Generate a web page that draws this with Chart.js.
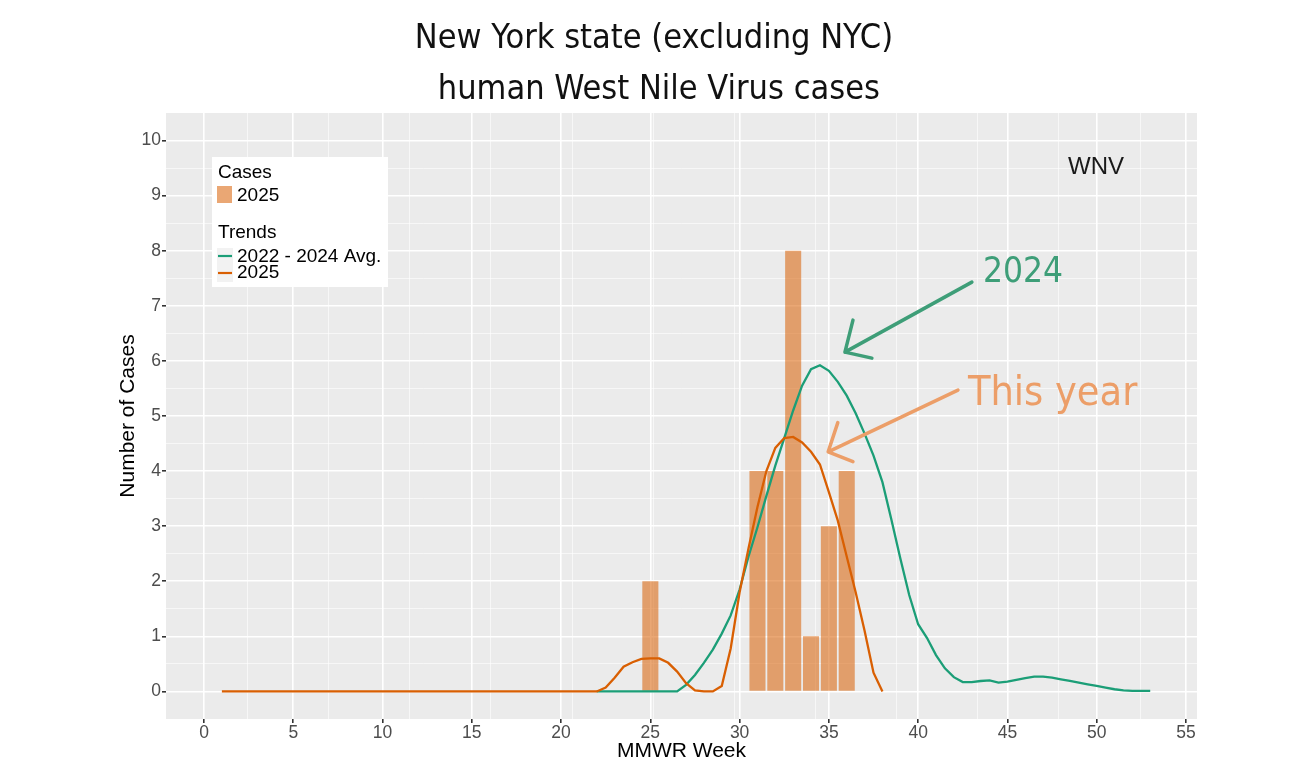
<!DOCTYPE html>
<html>
<head>
<meta charset="utf-8">
<script src="https://cdn.jsdelivr.net/npm/chart.js@4.4.1/dist/chart.umd.min.js"></script>
<style>
  html, body { margin: 0; padding: 0; background: #ffffff; }
  #wrap { width: 1308px; height: 776px; }
</style>
</head>
<body>
<div id="wrap"><canvas id="chart" width="1308" height="776"></canvas></div>
<script>
// weekly case counts (bars)
const caseWeeks = [25, 31, 32, 33, 34, 35, 36];
const cases2025 = [2, 4, 4, 8, 1, 3, 4];

// smoothed trend, 2022 - 2024 average
const avgWeeks = [22, 26.5, 27, 27.5, 28, 28.5, 29, 29.5, 30, 30.5, 31, 31.5, 32, 32.5, 33, 33.5, 34, 34.5, 35, 35.5,
  36, 36.5, 37, 37.5, 38, 38.5, 39, 39.5, 40, 40.5, 41, 41.5, 42, 42.5, 43, 43.5, 44, 44.5, 45, 45.5,
  46, 46.5, 47, 47.5, 48, 48.5, 49, 49.5, 50, 50.5, 51, 51.5, 52, 52.5, 53];
const avgTrend = [0, 0, 0.12, 0.3, 0.52, 0.76, 1.05, 1.38, 1.85, 2.45, 2.98, 3.55, 4.1, 4.6, 5.1, 5.55, 5.85, 5.92, 5.82, 5.62,
  5.37, 5.05, 4.68, 4.28, 3.8, 3.12, 2.42, 1.75, 1.22, 0.97, 0.66, 0.42, 0.26, 0.17, 0.17, 0.19, 0.2, 0.16, 0.18, 0.21,
  0.24, 0.27, 0.27, 0.25, 0.22, 0.19, 0.16, 0.13, 0.1, 0.07, 0.04, 0.02, 0.01, 0.01, 0.01];

// smoothed trend, 2025
const trendWeeks2025 = [1, 22, 22.5, 23, 23.5, 24, 24.5, 25, 25.5, 26, 26.5, 27, 27.5, 28, 28.5, 29, 29.5,
  30, 30.5, 31, 31.5, 32, 32.5, 33, 33.5, 34, 34.5, 35, 35.5, 36, 36.5, 37, 37.5, 38];
const trend2025 = [0, 0, 0.07, 0.25, 0.45, 0.53, 0.59, 0.6, 0.6, 0.52, 0.36, 0.15, 0.02, 0, 0, 0.1, 0.78,
  1.8, 2.6, 3.35, 4.0, 4.42, 4.6, 4.62, 4.52, 4.35, 4.12, 3.62, 3.1, 2.45, 1.8, 1.1, 0.34, 0];

// axis breaks
const xTickValues = [0, 5, 10, 15, 20, 25, 30, 35, 40, 45, 50, 55];
const yTickValues = [0, 1, 2, 3, 4, 5, 6, 7, 8, 9, 10];
const xMinorValues = [2.5, 7.5, 12.5, 17.5, 22.5, 27.5, 32.5, 37.5, 42.5, 47.5, 52.5];
const yMinorValues = [0.5, 1.5, 2.5, 3.5, 4.5, 5.5, 6.5, 7.5, 8.5, 9.5];

const toPoints = (xs, ys) => xs.map((x, i) => ({ x: x, y: ys[i] }));

const sansFont = "'Liberation Sans', Arial, sans-serif";
const handFont = "'Liberation Sans Narrow', 'DejaVu Sans Condensed', 'DejaVu Sans', sans-serif";
const GREEN = '#1B9E77';
const ORANGE = '#D95F02';
const BAR = 'rgba(217, 95, 2, 0.55)';

const X_MIN = -2.13, X_MAX = 55.62;
const Y_MIN = -0.5, Y_MAX = 10.5;

// grey ggplot panel
const panelBg = {
  id: 'panelBg',
  beforeDraw(chart) {
    const { ctx, chartArea: a } = chart;
    ctx.save();
    ctx.fillStyle = '#EBEBEB';
    ctx.fillRect(a.left, a.top, a.right - a.left, a.bottom - a.top);
    ctx.restore();
  }
};

// legend box in the top left corner of the panel
const ggLegend = {
  id: 'ggLegend',
  afterDraw(chart) {
    const { ctx, chartArea: a } = chart;
    const L = a.left + 46, T = a.top + 44;
    ctx.save();
    ctx.fillStyle = '#FFFFFF';
    ctx.fillRect(L, T, 176, 130);
    ctx.font = '19px ' + sansFont;
    ctx.textBaseline = 'middle';
    ctx.textAlign = 'left';
    ctx.fillStyle = '#000000';
    ctx.fillText('Cases', L + 6, T + 16);
    ctx.fillStyle = BAR;
    ctx.fillRect(L + 5, T + 29, 15, 17);
    ctx.fillStyle = '#000000';
    ctx.fillText('2025', L + 25, T + 39);
    ctx.fillText('Trends', L + 6, T + 76);
    ctx.fillStyle = '#F2F2F2';
    ctx.fillRect(L + 5, T + 91, 16, 34);
    ctx.lineWidth = 2.2;
    ctx.strokeStyle = GREEN;
    ctx.beginPath(); ctx.moveTo(L + 6, T + 99); ctx.lineTo(L + 20, T + 99); ctx.stroke();
    ctx.strokeStyle = ORANGE;
    ctx.beginPath(); ctx.moveTo(L + 6, T + 116); ctx.lineTo(L + 20, T + 116); ctx.stroke();
    ctx.fillStyle = '#000000';
    ctx.fillText('2022 - 2024 Avg.', L + 25, T + 100);
    ctx.fillText('2025', L + 25, T + 116);
    ctx.restore();
  }
};

// hand drawn notes, placed in data units
const notes = {
  id: 'notes',
  afterDraw(chart) {
    const { ctx, scales: { x, y } } = chart;
    const P = (wk, v) => [x.getPixelForValue(wk), y.getPixelForValue(v)];
    const arrow = (from, tip, b1, b2, color) => {
      ctx.strokeStyle = color;
      ctx.lineWidth = 3.5;
      ctx.lineCap = 'round';
      ctx.lineJoin = 'round';
      ctx.beginPath();
      ctx.moveTo(...P(...from));
      ctx.lineTo(...P(...tip));
      ctx.moveTo(...P(...b1));
      ctx.lineTo(...P(...tip));
      ctx.lineTo(...P(...b2));
      ctx.stroke();
    };
    ctx.save();
    ctx.font = '24px ' + sansFont;
    ctx.fillStyle = '#1A1A1A';
    ctx.textBaseline = 'middle';
    ctx.fillText('WNV', ...P(48.4, 9.52));

    ctx.textBaseline = 'alphabetic';
    ctx.font = '35px ' + handFont;
    ctx.fillStyle = '#3E9E78';
    ctx.fillText('2024', ...P(43.63, 7.43));
    arrow([43.01, 7.43], [35.9, 6.16], [36.35, 6.74], [37.41, 6.05], '#3E9E78');

    ctx.font = '41px ' + handFont;
    ctx.fillStyle = '#EC9E68';
    ctx.fillText('This year', ...P(42.79, 5.2));
    arrow([42.23, 5.47], [34.96, 4.35], [35.5, 4.88], [36.35, 4.17], '#EC9E68');
    ctx.restore();
  }
};

new Chart(document.getElementById('chart'), {
  type: 'bar',
  data: {
    datasets: [
      {
        type: 'line',
        label: '2022 - 2024 Avg.',
        data: toPoints(avgWeeks, avgTrend),
        borderColor: GREEN,
        borderWidth: 2.3,
        pointRadius: 0,
        tension: 0,
        order: 1
      },
      {
        type: 'line',
        label: '2025 trend',
        data: toPoints(trendWeeks2025, trend2025),
        borderColor: ORANGE,
        borderWidth: 2.3,
        pointRadius: 0,
        tension: 0,
        order: 0
      },
      {
        type: 'bar',
        label: '2025',
        data: toPoints(caseWeeks, cases2025),
        backgroundColor: BAR,
        borderWidth: 0,
        barPercentage: 0.9,
        categoryPercentage: 1.0,
        order: 2
      }
    ]
  },
  options: {
    responsive: false,
    animation: false,
    layout: { padding: 0 },
    plugins: {
      legend: { display: false },
      tooltip: { enabled: false },
      title: {
        display: true,
        text: ['New York state (excluding NYC)', ' human West Nile Virus cases'],
        color: '#111111',
        font: { family: handFont, size: 34, weight: 'normal', lineHeight: 1.5 },
        padding: { top: 14, bottom: -3 }
      }
    },
    scales: {
      x: {
        type: 'linear',
        min: X_MIN,
        max: X_MAX,
        offset: false,
        afterBuildTicks: s => { s.ticks = xTickValues.map(v => ({ value: v })); },
        afterFit: s => { s.height = 57; },
        ticks: { color: '#4D4D4D', font: { family: sansFont, size: 17.5 }, padding: 0, maxRotation: 0 },
        grid: { color: '#FFFFFF', lineWidth: 1.6, offset: false, tickColor: '#333333', tickLength: 4 },
        border: { display: false },
        title: {
          display: true, text: 'MMWR Week', color: '#000000',
          font: { family: sansFont, size: 21 }, padding: { top: 0, bottom: 12 }
        }
      },
      xMinor: {
        type: 'linear',
        position: 'top',
        min: X_MIN,
        max: X_MAX,
        afterBuildTicks: s => { s.ticks = xMinorValues.map(v => ({ value: v })); },
        ticks: { display: false },
        grid: { color: 'rgba(255,255,255,0.75)', lineWidth: 0.8, drawTicks: false },
        border: { display: false }
      },
      y: {
        type: 'linear',
        min: Y_MIN,
        max: Y_MAX,
        afterBuildTicks: s => { s.ticks = yTickValues.map(v => ({ value: v })); },
        afterFit: s => { s.width = 166; },
        ticks: { color: '#4D4D4D', font: { family: sansFont, size: 17.5 }, padding: 1 },
        grid: { color: '#FFFFFF', lineWidth: 1.6, tickColor: '#333333', tickLength: 4 },
        border: { display: false },
        title: {
          display: true, text: 'Number of Cases', color: '#000000',
          font: { family: sansFont, size: 21 }, padding: { top: 115.5, bottom: 0 }
        }
      },
      yMinor: {
        type: 'linear',
        position: 'right',
        min: Y_MIN,
        max: Y_MAX,
        afterBuildTicks: s => { s.ticks = yMinorValues.map(v => ({ value: v })); },
        afterFit: s => { s.width = 111; },
        ticks: { display: false },
        grid: { color: 'rgba(255,255,255,0.75)', lineWidth: 0.8, drawTicks: false },
        border: { display: false }
      }
    }
  },
  plugins: [panelBg, ggLegend, notes]
});
</script>
</body>
</html>
